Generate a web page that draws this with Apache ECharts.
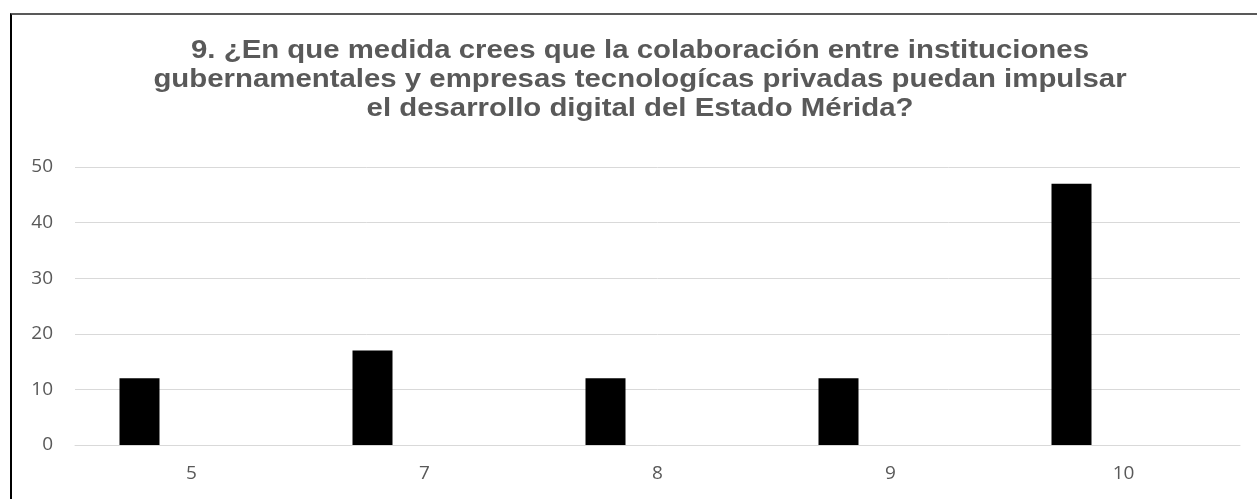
<!DOCTYPE html>
<html>
<head>
<meta charset="utf-8">
<script src="https://cdn.jsdelivr.net/npm/echarts@6/dist/echarts.min.js"></script>
<style>
  html, body { margin: 0; padding: 0; background: #fff; }
  #frame {
    position: absolute; left: 10px; top: 13px; width: 1247px; height: 486px;
    border-left: 2px solid #000; border-top: 2px solid #595959;
  }
  #chart { position: absolute; left: 0; top: 0; width: 1257px; height: 499px; }
</style>
</head>
<body>
<div id="frame"></div>
<div id="chart"></div>
<script>
// categorías (respuestas de la escala)
const categories = ['5', '7', '8', '9', '10'];
// número de respuestas
const values = [12, 17, 12, 12, 47];
// segunda serie vacía (hueco a la derecha de cada barra)
const emptySeries = ['-', '-', '-', '-', '-'];
const yTicks = [0, 10, 20, 30, 40, 50];

const titleText = '9. ¿En que medida crees que la colaboración entre instituciones\n' +
  'gubernamentales y empresas tecnologícas privadas puedan impulsar\n' +
  'el desarrollo digital del Estado Mérida?';

const chart = echarts.init(document.getElementById('chart'));
const option = {
  animation: false,
  backgroundColor: 'transparent',
  // título: texto un poco ensanchado como en el original
  graphic: [{
    type: 'text',
    x: 640,
    y: 36,
    scaleX: 1.13,
    style: {
      text: titleText,
      textAlign: 'center',
      textVerticalAlign: 'top',
      fontFamily: 'Liberation Sans, Arial, sans-serif',
      fontSize: 26,
      fontWeight: 'bold',
      lineHeight: 29,
      fill: '#595959'
    }
  }],
  grid: { left: 75, right: 17, top: 167, bottom: 54, containLabel: false },
  xAxis: {
    type: 'category',
    data: categories,
    axisLine: { show: true, lineStyle: { color: '#d9d9d9', width: 1 } },
    axisTick: { show: false },
    axisLabel: {
      color: '#595959',
      fontSize: 19,
      fontFamily: 'Open Sans, Liberation Sans, sans-serif',
      margin: 19
    }
  },
  yAxis: {
    type: 'value',
    min: yTicks[0],
    max: yTicks[yTicks.length - 1],
    interval: 10,
    axisLine: { show: false },
    axisTick: { show: false },
    splitLine: { lineStyle: { color: '#d9d9d9', width: 1 } },
    axisLabel: {
      color: '#595959',
      fontSize: 19,
      fontFamily: 'Open Sans, Liberation Sans, sans-serif',
      margin: 22
    }
  },
  series: [
    {
      name: 'Respuestas',
      type: 'bar',
      data: values,
      barWidth: 40,
      barGap: '160%',
      itemStyle: { color: '#000000' }
    },
    {
      name: 'Vacía',
      type: 'bar',
      data: emptySeries,
      barWidth: 40,
      itemStyle: { color: '#000000' }
    }
  ]
};
chart.setOption(option);
window.onresize = () => {
  chart.resize();
};
</script>
</body>
</html>
